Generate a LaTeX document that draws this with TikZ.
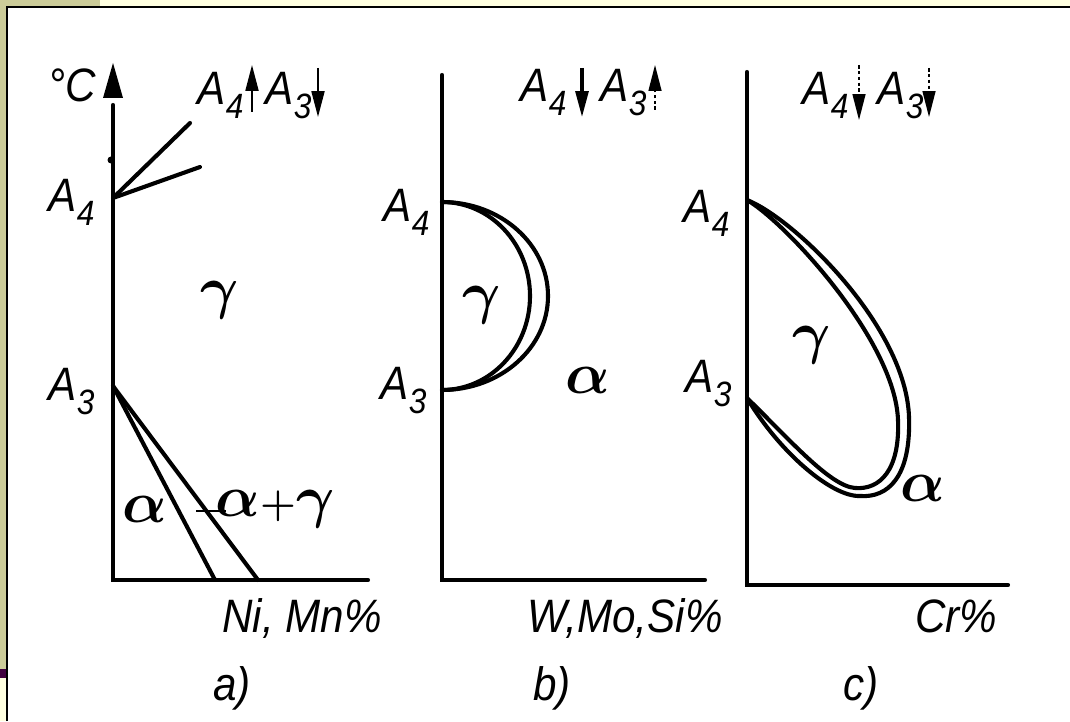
\documentclass[tikz,border=0pt]{standalone}
\usepackage{fontspec}
\usepackage{fix-cm}
\usetikzlibrary{arrows.meta}
\newfontfamily\gostfont[FakeStretch=0.9]{Liberation Sans}
\definecolor{slideback}{RGB}{255,255,224}
\definecolor{slidekhaki}{RGB}{204,204,153}
\definecolor{slideplum}{RGB}{64,0,64}
\newcommand{\Aidx}[1]{A\kern0.5pt\raisebox{-0.28em}{\fontsize{30}{30}\selectfont #1}}

\begin{document}
\begin{tikzpicture}[x=0.03cm, y=0.03cm,
axis/.style = {line width=3.5pt, line cap=round},
phase/.style = {line width=3.5pt, line cap=round, line join=round},
lbl/.style = {font=\gostfont\itshape\fontsize{40}{44}\selectfont,
        inner sep=0pt, anchor=base west},
greek/.style = {font=\boldmath\fontsize{50}{54}\selectfont, inner sep=0pt},
tagshaft/.style = {line width=1.8pt, -{Triangle[length=22pt,width=11pt]}},
tagdash/.style = {line width=1.2pt, dash pattern=on 3pt off 2pt,
        -{Triangle[length=22pt,width=11pt]}},
]
\useasboundingbox (0,0) rectangle (1070,721);

        % slide frame
        \fill[slideback] (0,0) rectangle (1070,721);
        \fill[slidekhaki] (0,715) rectangle (100,721);
        \fill[slidekhaki] (0,52) rectangle (6,715);
        \fill[slideplum] (0,43) rectangle (6,52);
        \fill[white] (7,0) rectangle (1070,714);
        \draw[line width=1.6pt] (7,0) -- (7,714) -- (1070,714);

        % a) Ni, Mn
        \coordinate (Oa) at (113,141);
        \coordinate (Ta) at (113,616);
        \coordinate (Xa) at (368,141);
        \coordinate (tipa) at (113,658);
        \coordinate (A4a) at (113,523);
        \coordinate (A3a) at (113,335);
        \draw[axis] (Ta) -- (Oa) -- (Xa);
        \fill (tipa) -- ++(-10,-35) -- ++(20,0) -- cycle;
        \fill (111,561) circle (3.5);
        \draw[phase] (A4a) -- (190,598);
        \draw[phase] (A4a) -- (200,554);
        \draw[phase] (A3a) -- (215,141);
        \draw[phase] (A3a) -- (258,141);
        \draw[line width=1.8pt] (196,210) -- (226,210);

        \node[lbl] (degC) at (48,619) {°C};
        \node[lbl] (lA4a) at (48,509) {\Aidx{4}};
        \node[lbl] (lA3a) at (48,320) {\Aidx{3}};
        \node[greek] (ga) at (220,421) {$\gamma$};
        \node[greek] (aa) at (145,212) {$\alpha$};
        \node[greek] (aga) at (275,212) {$\alpha{\scriptstyle+}\gamma$};
        \node[lbl] (tA4a) at (197,616) {\Aidx{4}};
        \draw[tagshaft] (252,609) -- (252,656);
        \node[lbl] (tA3a) at (265,616) {\Aidx{3}};
        \draw[tagshaft] (318,653) -- (318,604);
        \node[lbl] (xa) at (222,89) {Ni, Mn\%};
        \node[lbl] (capa) at (213,21) {a)};

        % b) W, Mo, Si
        \coordinate (Ob) at (442,141);
        \coordinate (Tb) at (442,646);
        \coordinate (Xb) at (705,141);
        \coordinate (A4b) at (442,519);
        \coordinate (A3b) at (442,331);
        \draw[axis] (Tb) -- (Ob) -- (Xb);
        \draw[phase] (A4b) arc[start angle=90, end angle=-90, x radius=88, y radius=94];
        \draw[phase] (A4b) arc[start angle=90, end angle=-90, x radius=106, y radius=94];

        \node[lbl] (lA4b) at (383,499) {\Aidx{4}};
        \node[lbl] (lA3b) at (380,321) {\Aidx{3}};
        \node[greek] (gb) at (482,416) {$\gamma$};
        \node[greek] (ab) at (588,341) {$\alpha$};
        \node[lbl] (tA4b) at (520,619) {\Aidx{4}};
        \draw[tagshaft, line width=2.6pt] (582,653) -- (582,604);
        \node[lbl] (tA3b) at (600,619) {\Aidx{3}};
        \draw[tagdash] (655,611) -- (655,656);
        \node[lbl] (xb) at (527,89) {W,Mo,Si\%};
        \node[lbl] (capb) at (533,21) {b)};

        % c) Cr
        \coordinate (Oc) at (747,136);
        \coordinate (Tc) at (747,649);
        \coordinate (Xc) at (1008,136);
        \coordinate (A4c) at (747,521);
        \coordinate (A3c) at (747,323);
        \draw[axis] (Tc) -- (Oc) -- (Xc);
        \draw[phase] (A4c) .. controls (785,499) and (895,381) .. (898,301)
                .. controls (900,251) and (880,231) .. (855,233)
                .. controls (830,235) and (790,281) .. (A3c);
        \draw[phase] (A4c) .. controls (795,502) and (906,394) .. (909,304)
                .. controls (911,244) and (888,223) .. (860,225)
                .. controls (832,224) and (780,268) .. (A3c);

        \node[lbl] (lA4c) at (683,498) {\Aidx{4}};
        \node[lbl] (lA3c) at (685,328) {\Aidx{3}};
        \node[greek] (gc) at (812,376) {$\gamma$};
        \node[greek] (ac) at (923,233) {$\alpha$};
        \node[lbl] (tA4c) at (802,616) {\Aidx{4}};
        \draw[tagdash] (859,656) -- (859,601);
        \node[lbl] (tA3c) at (877,616) {\Aidx{3}};
        \draw[tagdash] (929,653) -- (929,604);
        \node[lbl] (xc) at (915,89) {Cr\%};
        \node[lbl] (capc) at (843,21) {c)};

\end{tikzpicture}
\end{document}
